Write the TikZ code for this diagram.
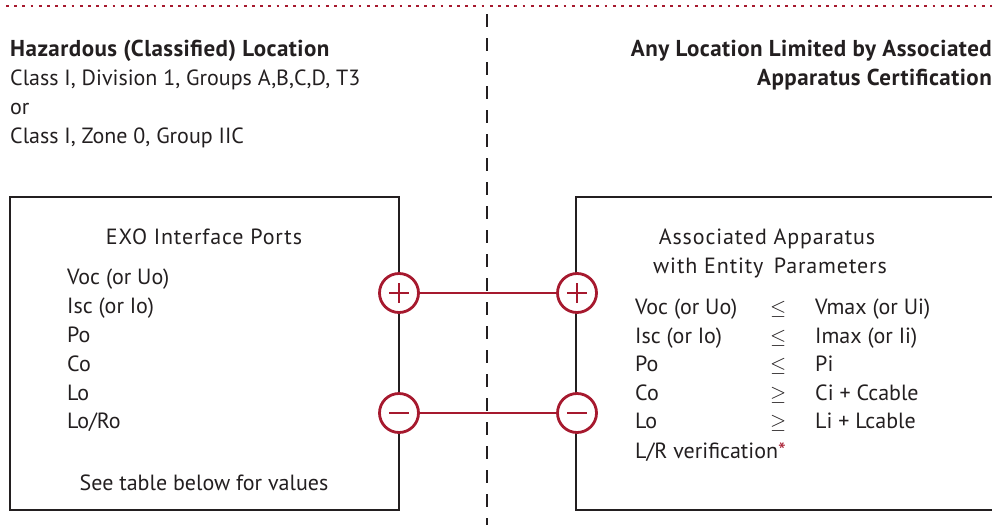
\documentclass[tikz,border=0pt]{standalone}
\usepackage{fontspec}
\setmainfont{PT Sans}
\newfontfamily\widefont[LetterSpace=4]{PT Sans}
\newfontfamily\headfont[LetterSpace=2]{PT Sans Bold}
\usepackage{tikz}
\usetikzlibrary{calc,positioning}
\definecolor{exored}{RGB}{166,25,46}
\definecolor{exoink}{RGB}{35,31,32}

\begin{document}
\begin{tikzpicture}[x=1pt,y=-1pt,
	txt/.style={anchor=base west,inner sep=0pt,text=exoink,font=\fontsize{22}{29}\selectfont},
	title/.style={txt,anchor=base,font=\fontsize{22}{29}\widefont},
	head/.style={txt,font=\fontsize{23}{29}\headfont},
	boxline/.style={draw=exoink,line width=2.8pt},
	wire/.style={draw=exored,line width=2.8pt},
	port/.style={circle,draw=exored,fill=white,line width=2.8pt,minimum size=39pt,inner sep=0pt},
	pplus/.style={port,path picture={
		\draw[exored,line width=2.8pt] ($(path picture bounding box.center)+(-10,0)$)--++(20,0);
		\draw[exored,line width=2.8pt] ($(path picture bounding box.center)+(0,-10)$)--++(0,20);}},
	pminus/.style={port,path picture={
		\draw[exored,line width=2.8pt] ($(path picture bounding box.center)+(-10,0)$)--++(20,0);}}]
				%\draw[color=gray,step=10pt,help lines,opacity=0.3] (0,0) grid (992,525); %help grids
				\useasboundingbox (0,0) rectangle (992,525);
				% top border and location split
				\draw[exored,line width=2.8pt,dash pattern=on 2.8pt off 5.4pt] (6,6)--(992,6);
				\draw[exoink,line width=2.8pt,dash pattern=on 13pt off 11pt] (487,14)--(487,525);

				% left side: hazardous location
				\node[head] (hazhead) at (10,56) {Hazardous (Classified) Location};
				\node[txt] (hazdiv) at (10,85) {Class I, Division 1, Groups A,B,C,D, T3};
				\node[txt] (hazor) at (10,114) {or};
				\node[txt] (hazzone) at (10,143) {Class I, Zone 0, Group IIC};

				% right side: any location
				\node[head,anchor=base east] (anyhead) at (992,56) {Any Location Limited by Associated};
				\node[head,anchor=base east] (anycert) at (992,85) {Apparatus Certification};

				% the two boxes
				\draw[boxline] (10,197) rectangle (399,510);
				\draw[boxline] (1000,197)--(576,197)--(576,510)--(1000,510);

				\node[title] (exotitle) at (204,244) {EXO Interface Ports};
				\node[txt] (exovoc) at (67,284) {Voc (or Uo)};
				\node[txt] (exoisc) at (67,313) {Isc (or Io)};
				\node[txt] (exopo) at (67,342) {Po};
				\node[txt] (exoco) at (67,371) {Co};
				\node[txt] (exolo) at (67,400) {Lo};
				\node[txt] (exolr) at (67,428) {Lo/Ro};
				\node[txt,anchor=base] (exosee) at (204,490) {See table below for values};

				\node[title] (aatitle) at (767,244) {Associated Apparatus};
				\node[title] (aaentity) at (770,273) {with Entity\, Parameters};
				\node[txt] (aavoc) at (635,314) {Voc (or Uo)};
				\node[txt] (aaisc) at (635,343) {Isc (or Io)};
				\node[txt] (aapo) at (635,371) {Po};
				\node[txt] (aaco) at (635,400) {Co};
				\node[txt] (aalo) at (635,428) {Lo};
				\node[txt] (aalr) at (635,458) {L/R verification\textcolor{exored}{*}};
				\node[txt] (relvoc) at (770,314) {$\leq$};
				\node[txt] (relisc) at (770,343) {$\leq$};
				\node[txt] (relpo) at (770,371) {$\leq$};
				\node[txt] (relco) at (770,400) {$\geq$};
				\node[txt] (rello) at (770,428) {$\geq$};
				\node[txt] (maxv) at (815,314) {Vmax (or Ui)};
				\node[txt] (maxi) at (815,343) {Imax (or Ii)};
				\node[txt] (maxp) at (815,371) {Pi};
				\node[txt] (maxc) at (815,400) {Ci + Ccable};
				\node[txt] (maxl) at (815,428) {Li + Lcable};

				% ports and wires
				\node[pplus] (lplus) at (399,293) {};
				\node[pminus] (lminus) at (399,413) {};
				\node[pplus] (rplus) at (577,293) {};
				\node[pminus] (rminus) at (577,413) {};
				\draw[wire] (lplus)--(rplus);
				\draw[wire] (lminus)--(rminus);
\end{tikzpicture}
\end{document}
